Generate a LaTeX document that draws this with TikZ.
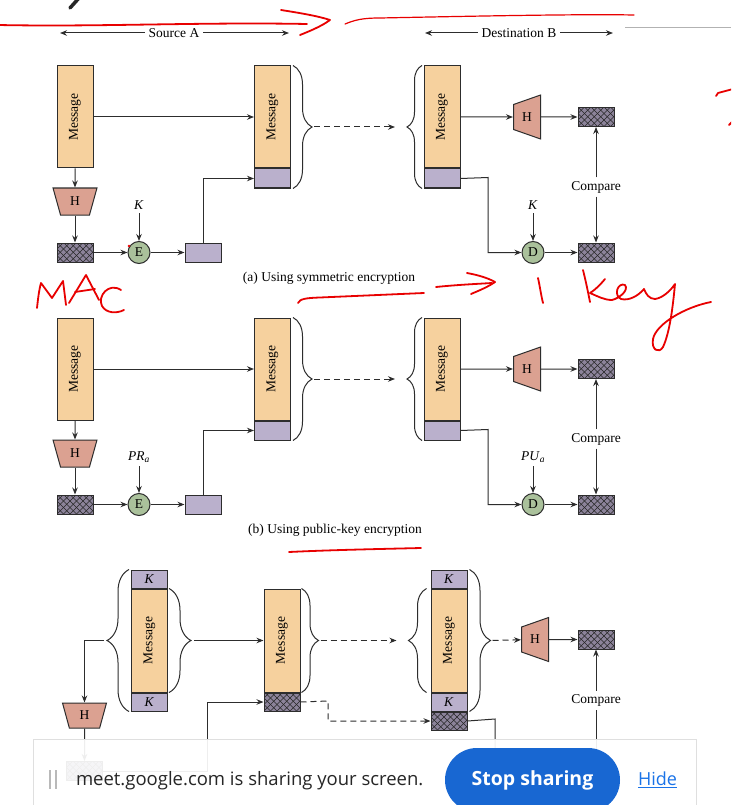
\documentclass[tikz,border=0pt]{standalone}
\usepackage{fontspec}
\setmainfont{Liberation Serif}
\newfontfamily\uifont{Open Sans}
\usepackage{graphicx}
\usetikzlibrary{arrows.meta,positioning,calc,shapes.geometric,decorations.pathreplacing}
\definecolor{msgfill}{RGB}{246,209,158}
\definecolor{tagfill}{RGB}{186,176,204}
\definecolor{hfill}{RGB}{219,161,145}
\definecolor{cipherfill}{RGB}{170,193,155}
\definecolor{hashfill}{RGB}{140,131,154}
\definecolor{wire}{RGB}{45,45,45}
\definecolor{penred}{RGB}{232,0,0}
\definecolor{meetblue}{RGB}{24,103,210}
\definecolor{linkblue}{RGB}{26,115,232}
\tikzset{
     fig text/.style={font=\fontsize{13.5}{15}\selectfont},
     msg node/.style={draw=wire, fill=msgfill, minimum width=36pt, minimum height=102pt, inner sep=0pt, fig text},
     tag node/.style={draw=wire, fill=tagfill, minimum width=36pt, minimum height=19pt, inner sep=0pt, fig text},
     hash node/.style={draw=wire, fill=hashfill, minimum width=36pt, minimum height=19pt, inner sep=0pt,
        path picture={\foreach \d in {-26,-19.5,...,62}{
           \draw[black!85, line width=0.55pt] ([xshift=\d pt]path picture bounding box.south west) -- ++(26pt,26pt);
           \draw[black!85, line width=0.55pt] ([xshift=\d pt]path picture bounding box.south west) -- ++(-26pt,26pt);}}},
     hash fn/.style={trapezium, trapezium stretches=true, draw=wire, fill=hfill, inner sep=0pt, fig text},
     hash down/.style={hash fn, shape border rotate=180, trapezium angle=74, minimum width=44pt, minimum height=27pt},
     hash right/.style={hash fn, shape border rotate=90, trapezium angle=71, minimum width=44pt, minimum height=27pt},
     cipher/.style={circle, draw=wire, fill=cipherfill, minimum size=22pt, inner sep=0pt, fig text},
     flow/.style={color=wire, ->, >={Stealth[length=7pt,width=5.5pt]}},
     dash flow/.style={flow, dash pattern=on 6pt off 4pt},
     curly/.style={draw=wire, decorate, decoration={brace, amplitude=#1}},
     curly/.default=18pt,
     ink/.style={draw=penred, line width=1.8pt, line cap=round, line join=round},
    }
\begin{document}
\begin{tikzpicture}[x=1pt, y=-1pt, line width=1pt, node distance=0pt]
\useasboundingbox (0,0) rectangle (731,805);
\clip (0,0) rectangle (731,805);
\fill[white] (0,0) rectangle (731,805);

% headings
\node[fig text] (srcA) at (174,33) {Source A};
\node[fig text] (dstB) at (519,33) {Destination B};
\coordinate (srcL) at (60,33);
\coordinate (srcR) at (289,33);
\coordinate (dstL) at (425,33);
\coordinate (dstR) at (613,33);
\path[flow] (srcA) edge (srcL) (srcA) edge (srcR)
            (dstB) edge (dstL) (dstB) edge (dstR);
\draw[gray!60, line width=0.7pt] (625,27) -- (731,27);

% panels (a) and (b)
\foreach \p/\off/\ks/\kr/\capt/\cx in {%
    a/0/{\textit{K}}/{\textit{K}}/{(a) Using symmetric encryption}/329,%
    b/252/{\textit{PR}\textsubscript{\textit{a}}}/{\textit{PU}\textsubscript{\textit{a}}}/{(b) Using public-key encryption}/335}{
    \node[msg node] (msgS\p) at (75,117+\off) {\rotatebox{90}{Message}};
    \node[hash down] (hS\p) at (75,201.5+\off) {H};
    \node[hash node] (hashS\p) at (75,252.5+\off) {};
    \node[cipher] (enc\p) at (139,252.5+\off) {E};
    \node[fig text] (keyS\p) at (139,205+\off) {\ks};
    \node[tag node] (tagS\p) at (203,252.5+\off) {};

    \node[msg node] (msgT\p) at (272.5,117+\off) {\rotatebox{90}{Message}};
    \node[tag node, below=of msgT\p] (tagT\p) {};

    \node[msg node] (msgR\p) at (442,117+\off) {\rotatebox{90}{Message}};
    \node[tag node, below=of msgR\p] (tagR\p) {};
    \node[hash right] (hR\p) at (527,117+\off) {H};
    \node[hash node] (hashR\p) at (596,117+\off) {};
    \node[fig text] (cmp\p) at (596,187+\off) {Compare};
    \node[cipher] (dec\p) at (533,252.5+\off) {D};
    \node[fig text] (keyR\p) at (533,205+\off) {\kr};
    \node[hash node] (hashD\p) at (596,252.5+\off) {};
    \node[fig text] (cap\p) at (\cx,278+\off) {\capt};

    \coordinate (tipT\p) at ($(msgT\p.north east)!0.5!(tagT\p.south east)+(21,0)$);
    \coordinate (tipR\p) at ($(msgR\p.north west)!0.5!(tagR\p.south west)+(-16.5,0)$);
    \coordinate (bend\p) at (488,177.5+\off);
    \draw[curly=19pt] ([xshift=2pt]msgT\p.north east) -- ([xshift=2pt]tagT\p.south east);
    \draw[curly=15pt] ([xshift=-1.5pt]tagR\p.south west) -- ([xshift=-1.5pt]msgR\p.north west);

    \path[flow] (msgS\p) edge (msgT\p)
                (msgS\p) edge (hS\p)
                (hS\p) edge (hashS\p)
                (hashS\p) edge (enc\p)
                (keyS\p) edge (enc\p)
                (enc\p) edge (tagS\p)
                (msgR\p) edge (hR\p)
                (hR\p) edge (hashR\p)
                (cmp\p) edge (hashR\p)
                (cmp\p) edge (hashD\p)
                (keyR\p) edge (dec\p)
                (dec\p) edge (hashD\p);
    \draw[flow] (tagS\p) |- (tagT\p.west);
    \draw[flow] (tagR\p.east) -- (bend\p) |- (dec\p);
    \draw[dash flow, shorten <=2pt, shorten >=12pt] (tipT\p) -- (tipR\p);
}

% panel (c)
\node[msg node, minimum height=103pt] (msgC1) at (149.5,640.5) {\rotatebox{90}{Message}};
\node[tag node, minimum height=18pt, above=of msgC1] (kTop1) {\textit{K}};
\node[tag node, minimum height=18pt, below=of msgC1] (kBot1) {\textit{K}};
\node[hash down, trapezium angle=76, minimum height=25pt] (hC1) at (84.5,715.5) {H};
\node[hash node] (hashC1) at (84.5,771) {};

\node[msg node, minimum height=103pt] (msgC2) at (282,640.5) {\rotatebox{90}{Message}};
\node[hash node, minimum height=18pt, below=of msgC2] (hashC2) {};

\node[msg node, minimum height=103pt] (msgC3) at (449,640.5) {\rotatebox{90}{Message}};
\node[tag node, minimum height=18pt, above=of msgC3] (kTop3) {\textit{K}};
\node[tag node, minimum height=18pt, below=of msgC3] (kBot3) {\textit{K}};
\node[hash node, minimum height=18pt, below=of kBot3] (hashC3) {};
\node[hash right] (hC3) at (535,639.5) {H};
\node[hash node] (hashC3a) at (596,639.5) {};
\node[fig text] (cmpC) at (596,700.7) {Compare};
\node[hash node] (hashC3b) at (596,772) {};

\coordinate (tipC1L) at ($(kTop1.north west)!0.5!(kBot1.south west)+(-24,0)$);
\coordinate (tipC1R) at ($(msgC1.north east)!0.5!(msgC1.south east)+(23,0)$);
\coordinate (tipC2) at ($(msgC2.north east)!0.5!(msgC2.south east)+(18,0)$);
\coordinate (tipC3L) at ($(msgC3.north west)!0.5!(msgC3.south west)+(-22,0)$);
\coordinate (tipC3R) at ($(kTop3.north east)!0.5!(kBot3.south east)+(23,0)$);
\coordinate (bendC2) at (328,701);
\coordinate (upC) at (207,771);
\coordinate (downC) at (495,719);

\draw[curly=22pt] ([xshift=-2pt]kBot1.south west) -- ([xshift=-2pt]kTop1.north west);
\draw[curly=22pt] ([xshift=1pt]msgC1.north east) -- ([xshift=1pt]msgC1.south east);
\draw[curly=17pt] ([xshift=1pt]msgC2.north east) -- ([xshift=1pt]msgC2.south east);
\draw[curly=18pt] ([xshift=-4pt]msgC3.south west) -- ([xshift=-4pt]msgC3.north west);
\draw[curly=21pt] ([xshift=2pt]kTop3.north east) -- ([xshift=2pt]kBot3.south east);

\draw[flow, shorten <=3pt] (tipC1L) -| (hC1);
\draw[flow, shorten <=3pt] (tipC1R) -- (msgC2);
\draw[dash flow, shorten <=2pt, shorten >=12pt] (tipC2) -- (tipC3L);
\draw[dash flow] (hashC2.east) -- (bendC2) |- (hashC3.west);
\draw[dash flow, shorten <=2pt] (tipC3R) -- (hC3);
\path[flow] (hC3) edge (hashC3a)
            (cmpC) edge (hashC3a)
            (cmpC) edge (hashC3b)
            (hC1) edge (hashC1);
\draw[flow] (hashC1.east) -- (upC) |- (hashC2.west);
\draw[flow] (hashC3.east) -- (downC) |- (hashC3b.west);

% pen marks
\draw[line width=3.5pt, black!85, line cap=round] (70,8) -- (79,-2);
\draw[ink] (-2,25) .. controls (100,27) and (200,22) .. (307,24);
\draw[ink] (281,10) .. controls (300,13) and (318,16) .. (330,20) .. controls (322,26) and (310,31) .. (300,35);
\draw[ink, line width=1.2pt] (345,24) .. controls (355,20) and (362,18) .. (380,18) .. controls (480,16) and (580,14) .. (634,15);
\draw[ink] (716,96) -- (718,93) -- (733,89);
\draw[ink] (729,125) -- (733,121);
\fill[penred] (129,246) circle (1.3);
\draw[ink] (37,308) .. controls (38,299) and (39,290) .. (41,283) -- (52,298) -- (63,281) .. controls (64,289) and (65,297) .. (66,305);
\draw[ink] (69,303) -- (86,275) -- (99,300);
\draw[ink] (75,292) -- (95,289);
\draw[ink] (121,290) .. controls (109,282) and (97,296) .. (102,306) .. controls (106,313) and (116,314) .. (124,310);
\draw[ink] (298,303) .. controls (300,299) and (305,298) .. (320,297.5) -- (424,293);
\draw[ink] (436,287) .. controls (455,285) and (475,284) .. (492,283);
\draw[ink] (467,273) .. controls (478,275) and (488,278) .. (495,282) .. controls (488,287) and (478,291) .. (471,294);
\draw[ink] (538,278) .. controls (540,287) and (541,295) .. (543,303);
\draw[ink] (583,270) .. controls (586,282) and (588,292) .. (590,302);
\draw[ink] (605,279) .. controls (600,285) and (595,290) .. (590,293)
    .. controls (597,296) and (604,300) .. (612,300) .. controls (620,298) and (629,290) .. (625,285)
    .. controls (618,282) and (613,295) .. (621,299) .. controls (629,301) and (638,296) .. (644,289)
    .. controls (646,294) and (649,299) .. (655,299) .. controls (663,298) and (671,290) .. (675,284)
    .. controls (673,305) and (670,332) .. (663,347)
    .. controls (659,354) and (651,350) .. (653,339) .. controls (656,324) and (685,307) .. (711,302);
\draw[ink] (289,552) .. controls (330,550) and (380,549) .. (421,548);

% sharing bar
\fill[white, fill opacity=0.92] (33,739) rectangle (696,812);
\draw[gray!25] (33,812) -- (33,739) -- (696,739) -- (696,812);
\draw[gray!55, line width=1.4pt] (50,770) -- (50,789) (56,770) -- (56,789);
\node[anchor=west, inner sep=0pt, text=black!85, font=\uifont\fontsize{18.5}{20}\selectfont] (shareMsg) at (75.5,780.5) {meet.google.com is sharing your screen.};
\node[fill=meetblue, rounded corners=32pt, minimum width=175pt, minimum height=64pt, text=white, font=\uifont\bfseries\fontsize{19.5}{21}\selectfont] (stopBtn) at (532.5,780) {Stop sharing};
\node[inner sep=0pt, text=linkblue, font=\uifont\fontsize{18}{20}\selectfont] (hideLink) at (657.5,780) {\underline{Hide}};
\end{tikzpicture}
\end{document}
